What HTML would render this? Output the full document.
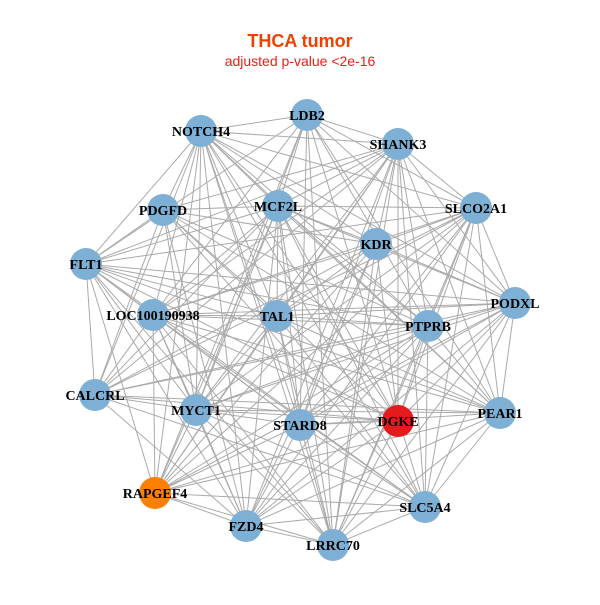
<!DOCTYPE html>
<html><head><meta charset="utf-8"><style>
body{margin:0;background:#fff;width:600px;height:600px;overflow:hidden}
</style></head><body>
<svg id="s" width="600" height="600" xmlns="http://www.w3.org/2000/svg">
<rect width="600" height="600" fill="#fff"/>
<text x="300" y="47" text-anchor="middle" font-family="Liberation Sans, sans-serif" font-weight="bold" font-size="18" fill="#ee4000">THCA tumor</text>
<text x="300" y="66" text-anchor="middle" font-family="Liberation Sans, sans-serif" font-size="14" fill="#e8201a">adjusted p-value &lt;2e-16</text>
<g id="e" stroke="#aaaaaa" stroke-width="1"></g>
<g id="n"></g>
</svg>
<script>
var N=[["LDB2",307,115],["NOTCH4",201,131],["SHANK3",398,144],["PDGFD",163,210],["MCF2L",278,206],["SLCO2A1",476,208],["KDR",376,244],["FLT1",86,264],["LOC100190938",153,315],["TAL1",277,316],["PTPRB",428,326],["PODXL",515,303],["CALCRL",95,395],["MYCT1",196,410],["STARD8",300,425],["DGKE",398,421],["PEAR1",500,413],["RAPGEF4",155,493],["FZD4",246,526],["SLC5A4",425,507],["LRRC70",333,545]];
var ns="http://www.w3.org/2000/svg",e=document.getElementById("e"),g=document.getElementById("n");
for(var i=0;i<N.length;i++)for(var j=i+1;j<N.length;j++){
 if((i*7+j*3)%9==0)continue;
 var l=document.createElementNS(ns,"line");
 l.setAttribute("x1",N[i][1]);l.setAttribute("y1",N[i][2]);l.setAttribute("x2",N[j][1]);l.setAttribute("y2",N[j][2]);e.appendChild(l);}
N.forEach(function(d){
 var c=document.createElementNS(ns,"circle");c.setAttribute("cx",d[1]);c.setAttribute("cy",d[2]);c.setAttribute("r",16);
 c.setAttribute("fill",d[0]=="DGKE"?"#e41a1c":d[0]=="RAPGEF4"?"#ff7f00":"#7eb0d5");g.appendChild(c);});
N.forEach(function(d){
 var t=document.createElementNS(ns,"text");t.setAttribute("x",d[1]);t.setAttribute("y",d[2]+5);t.setAttribute("text-anchor","middle");
 t.setAttribute("font-family","Liberation Serif, serif");t.setAttribute("font-weight","bold");t.setAttribute("font-size","14");
 t.textContent=d[0];g.appendChild(t);});
</script>
</body></html>
